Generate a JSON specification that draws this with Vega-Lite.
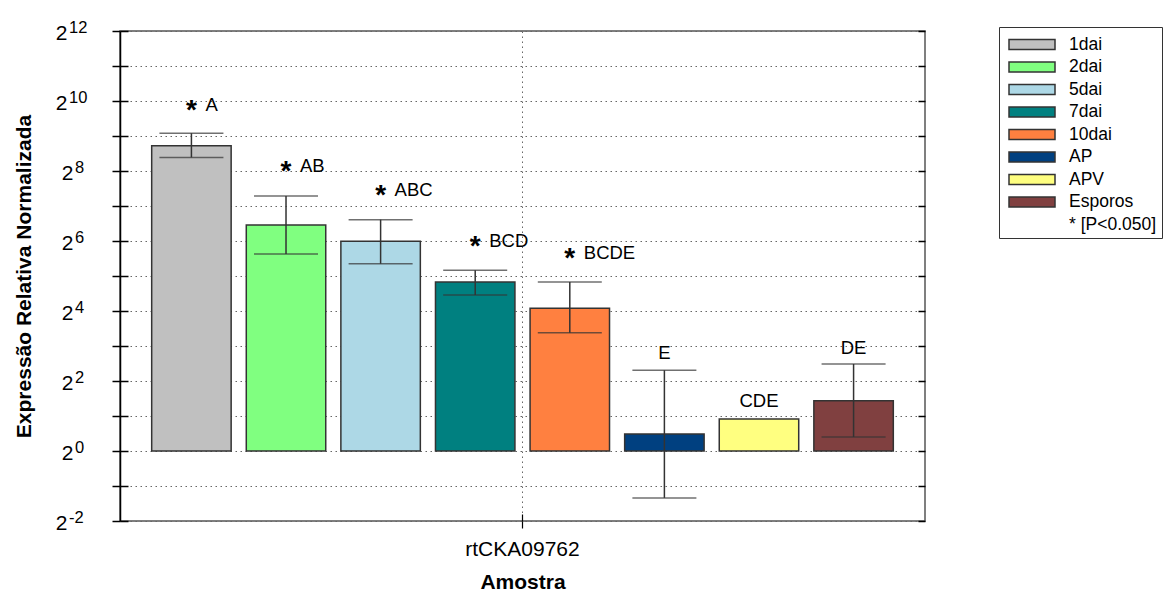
{
  "$schema": "https://vega.github.io/schema/vega-lite/v6.json",
  "width": 805,
  "height": 490,
  "autosize": "none",
  "padding": {"left": 120, "top": 31, "right": 238, "bottom": 71},
  "background": "white",
  "config": {
    "font": "Liberation Sans",
    "view": {"stroke": "#555", "strokeWidth": 1.5}
  },
  "data": {
    "values": [
      {"sample": "rtCKA09762", "group": "1dai", "value": 421.7, "lo": 335, "hi": 541, "ty": 962, "star": "*", "letters": "A"},
      {"sample": "rtCKA09762", "group": "2dai", "value": 88, "lo": 49.5, "hi": 156, "ty": 288, "star": "*", "letters": "AB"},
      {"sample": "rtCKA09762", "group": "5dai", "value": 63.6, "lo": 40.8, "hi": 97.7, "ty": 180, "star": "*", "letters": "ABC"},
      {"sample": "rtCKA09762", "group": "7dai", "value": 28.4, "lo": 22.0, "hi": 35.8, "ty": 65.3, "star": "*", "letters": "BCD"},
      {"sample": "rtCKA09762", "group": "10dai", "value": 16.9, "lo": 10.4, "hi": 28.4, "ty": 51.7, "star": "*", "letters": "BCDE"},
      {"sample": "rtCKA09762", "group": "AP", "value": 1.40, "lo": 0.395, "hi": 4.95, "ty": 7.06, "star": "", "letters": "E"},
      {"sample": "rtCKA09762", "group": "APV", "value": 1.88, "lo": null, "hi": null, "ty": 2.73, "star": "", "letters": "CDE"},
      {"sample": "rtCKA09762", "group": "Esporos", "value": 2.71, "lo": 1.32, "hi": 5.6, "ty": 7.89, "star": "", "letters": "DE"}
    ]
  },
  "encoding": {
    "x": {
      "field": "sample",
      "type": "nominal",
      "scale": {"paddingInner": 0, "paddingOuter": 0},
      "axis": null
    },
    "xOffset": {
      "field": "group",
      "type": "nominal",
      "sort": ["1dai", "2dai", "5dai", "7dai", "10dai", "AP", "APV", "Esporos"],
      "scale": {"paddingInner": 0.16, "paddingOuter": 0.335}
    }
  },
  "layer": [
    {
      "mark": {"type": "bar", "strokeWidth": 1.5},
      "encoding": {
        "x": {
          "field": "sample",
          "type": "nominal",
          "axis": {
            "orient": "bottom",
            "title": "Amostra",
            "titleFontSize": 21,
            "titleFontWeight": "bold",
            "titleColor": "#000",
            "titlePadding": 12,
            "labelFontSize": 21,
            "labelColor": "#000",
            "labelAngle": 0,
            "labelPadding": 10,
            "domain": false,
            "tickSize": 7,
            "tickColor": "#000",
            "tickWidth": 1.2,
            "grid": true,
            "gridColor": "#666",
            "gridDash": [1.5, 3.5],
            "gridWidth": 1
          }
        },
        "y": {
          "field": "value",
          "type": "quantitative",
          "scale": {"type": "log", "base": 2, "domain": [0.25, 4096], "nice": false},
          "axis": {
            "orient": "left",
            "title": "Expressão Relativa Normalizada",
            "titleFontSize": 21,
            "titleFontWeight": "bold",
            "titleColor": "#000",
            "titlePadding": 27,
            "values": [0.25, 0.5, 1, 2, 4, 8, 16, 32, 64, 128, 256, 512, 1024, 2048, 4096],
            "labelExpr": "indexof([1, 4, 16, 64, 256], datum.value) >= 0 ? '2' : ''",
            "labelFontSize": 21,
            "labelColor": "#000",
            "labelPadding": 39,
            "labelBaseline": "middle",
            "labelOffset": 2,
            "domain": true,
            "domainColor": "#000",
            "domainWidth": 1.5,
            "tickSize": 8,
            "tickColor": "#000",
            "tickWidth": 1.5,
            "grid": true,
            "gridColor": "#666",
            "gridDash": [1.5, 3.5],
            "gridWidth": 1
          }
        },
        "y2": {"datum": 1},
        "color": {
          "field": "group",
          "type": "nominal",
          "scale": {
            "domain": ["1dai", "2dai", "5dai", "7dai", "10dai", "AP", "APV", "Esporos", "* [P<0.050]"],
            "range": ["#C0C0C0", "#80FF80", "#ADD8E6", "#008080", "#FF8040", "#004080", "#FFFF80", "#804040", "transparent"]
          },
          "legend": {
            "title": null,
            "orient": "none",
            "legendX": 879,
            "legendY": -4,
            "strokeColor": "#333",
            "fillColor": "white",
            "padding": 5,
            "labelFontSize": 17.5,
            "labelColor": "#000",
            "labelOffset": 36,
            "symbolOffset": 4,
            "symbolType": "M-1,-0.435L3,-0.435L3,0.435L-1,0.435Z",
            "symbolSize": 529,
            "symbolStrokeWidth": 1.5,
            "symbolOpacity": 1,
            "rowPadding": 1.5
          }
        },
        "stroke": {
          "field": "group",
          "type": "nominal",
          "scale": {
            "domain": ["1dai", "2dai", "5dai", "7dai", "10dai", "AP", "APV", "Esporos", "* [P<0.050]"],
            "range": ["#333", "#333", "#333", "#333", "#333", "#333", "#333", "#333", "transparent"]
          },
          "legend": {
            "title": null,
            "orient": "none",
            "legendX": 879,
            "legendY": -4,
            "strokeColor": "#333",
            "fillColor": "white",
            "padding": 5,
            "labelFontSize": 17.5,
            "labelColor": "#000",
            "labelOffset": 36,
            "symbolOffset": 4,
            "symbolType": "M-1,-0.435L3,-0.435L3,0.435L-1,0.435Z",
            "symbolSize": 529,
            "symbolStrokeWidth": 1.5,
            "symbolOpacity": 1,
            "rowPadding": 1.5
          }
        }
      }
    },
    {
      "transform": [{"filter": "datum.lo != null"}],
      "mark": {"type": "rule", "color": "#333", "strokeWidth": 1.5},
      "encoding": {
        "y": {
          "field": "lo",
          "type": "quantitative",
          "axis": {
            "orient": "right",
            "title": null,
            "labels": false,
            "domain": false,
            "grid": false,
            "values": [0.25, 0.5, 1, 2, 4, 8, 16, 32, 64, 128, 256, 512, 1024, 2048, 4096],
            "tickSize": -7,
            "tickColor": "#000",
            "tickWidth": 1.5
          }
        },
        "y2": {"field": "hi"}
      }
    },
    {
      "transform": [{"filter": "datum.lo != null"}],
      "mark": {"type": "tick", "color": "#333", "thickness": 1.5, "size": 64},
      "encoding": {
        "y": {
          "field": "hi",
          "type": "quantitative",
          "axis": {
            "orient": "left",
            "title": null,
            "ticks": false,
            "domain": false,
            "grid": false,
            "values": [1, 4, 16, 64, 256],
            "labelExpr": "'' + round(log(datum.value)/LN2)",
            "labelFontSize": 16.5,
            "labelColor": "#000",
            "labelAlign": "left",
            "labelBaseline": "middle",
            "labelPadding": 45.5,
            "labelOffset": -4
          }
        }
      }
    },
    {
      "transform": [{"filter": "datum.lo != null"}],
      "mark": {"type": "tick", "color": "#333", "thickness": 1.5, "size": 64},
      "encoding": {
        "y": {
          "field": "lo",
          "type": "quantitative",
          "axis": {
            "orient": "left",
            "title": null,
            "ticks": false,
            "domain": false,
            "grid": false,
            "values": [0.25, 1024, 4096],
            "labelExpr": "'2'",
            "labelFontSize": 21,
            "labelColor": "#000",
            "labelAlign": "right",
            "labelBaseline": "middle",
            "labelPadding": 53,
            "labelOffset": 2
          }
        }
      }
    },
    {
      "transform": [{"filter": "datum.star == '*'"}],
      "mark": {"type": "text", "fontSize": 28, "fontWeight": "bold", "baseline": "alphabetic", "align": "center", "dy": 15, "color": "#000"},
      "encoding": {
        "x": {
          "field": "sample",
          "type": "nominal",
          "axis": {"orient": "bottom", "title": null, "labels": false, "domain": false, "grid": false, "tickSize": -7, "tickColor": "#000", "tickWidth": 1.2}
        },
        "y": {
          "field": "ty",
          "type": "quantitative",
          "axis": {
            "orient": "left",
            "title": null,
            "labels": false,
            "domain": false,
            "grid": false,
            "values": [0.25, 0.5, 1, 2, 4, 8, 16, 32, 64, 128, 256, 512, 1024, 2048, 4096],
            "tickSize": -8,
            "tickColor": "#000",
            "tickWidth": 1.5
          }
        },
        "text": {"field": "star"}
      }
    },
    {
      "transform": [{"filter": "datum.star == '*'"}],
      "mark": {"type": "text", "fontSize": 18.5, "baseline": "alphabetic", "align": "left", "dx": 14, "dy": 7, "color": "#000"},
      "encoding": {
        "y": {
          "field": "ty",
          "type": "quantitative",
          "axis": {
            "orient": "left",
            "title": null,
            "ticks": false,
            "domain": false,
            "grid": false,
            "values": [0.25, 1024, 4096],
            "labelExpr": "'' + round(log(datum.value)/LN2)",
            "labelFontSize": 16.5,
            "labelColor": "#000",
            "labelAlign": "left",
            "labelBaseline": "middle",
            "labelPadding": 51.5,
            "labelOffset": -4
          }
        },
        "text": {"field": "letters"}
      }
    },
    {
      "transform": [{"filter": "datum.star != '*'"}],
      "mark": {"type": "text", "fontSize": 18.5, "baseline": "alphabetic", "align": "center", "dy": 7, "color": "#000"},
      "encoding": {
        "y": {"field": "ty", "type": "quantitative", "axis": null},
        "text": {"field": "letters"}
      }
    }
  ],
  "resolve": {"axis": {"y": "independent", "x": "independent"}}
}
